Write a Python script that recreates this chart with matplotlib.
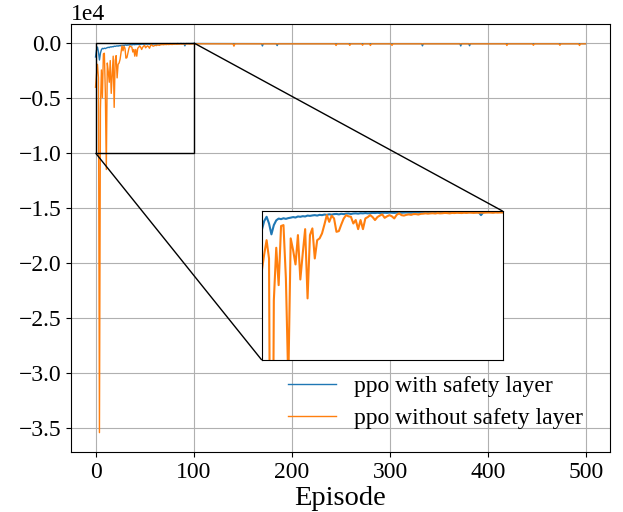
import numpy as np
import matplotlib
matplotlib.use("Agg")
import matplotlib.pyplot as plt
from mpl_toolkits.axes_grid1.inset_locator import mark_inset

plt.rcParams["font.family"] = ["Liberation Serif", "DejaVu Serif"]

# episodes 0..99
blue_head = [
    -1280, -670, -380, -830, -1560, -940, -620, -500, -540, -480,
    -520, -470, -440, -400, -430, -360, -380, -340, -360, -300,
    -320, -290, -270, -300, -250, -270, -230, -250, -210, -240,
    -200, -190, -220, -180, -200, -170, -160, -190, -160, -150,
    -170, -140, -150, -130, -150, -140, -120, -130, -110, -130,
    -120, -110, -120, -100, -110, -120, -100, -90, -110, -100,
    -90, -100, -110, -90, -80, -100, -90, -80, -90, -100,
    -80, -90, -80, -70, -90, -80, -70, -80, -90, -70,
    -80, -70, -80, -70, -60, -80, -70, -60, -70, -80,
    -60, -270, -70, -60, -70, -60, -70, -60, -60, -60,
]
orange_head = [
    -4030, -2900, -1950, -3180, -35400, -6000, -2460, -4970, -1000, -940,
    -4500, -11500, -1830, -2620, -3580, -1610, -4590, -2840, -1210, -5860,
    -1610, -1160, -3180, -1950, -1830, -1500, -900, -270, -720, -310,
    -490, -1390, -1340, -900, -500, -270, -350, -380, -830, -600,
    -1210, -600, -1210, -490, -400, -270, -400, -600, -400, -300,
    -220, -450, -350, -270, -350, -490, -250, -150, -270, -300,
    -250, -220, -250, -200, -200, -230, -180, -170, -150, -170,
    -150, -140, -160, -130, -150, -140, -120, -130, -150, -120,
    -130, -110, -120, -130, -110, -120, -100, -110, -120, -100,
    -110, -100, -110, -100, -90, -100, -110, -90, -100, -90,
]

# episodes 100..499: flat level plus the small dips visible on the top line
blue_tail_level = -70
orange_tail_level = -90
blue_dips = {170: -280, 185: -250, 333: -270, 372: -280, 381: -260}
orange_dips = {141: -300, 245: -240, 259: -230, 272: -220, 280: -240,
               302: -230, 419: -240, 446: -220, 473: -220, 493: -240}

n_episodes = 500


def build(head, level, dips):
    vals = np.full(n_episodes, float(level))
    vals[:len(head)] = head
    for ep, v in dips.items():
        vals[ep] = v
    return vals


episodes = np.arange(n_episodes)
blue = build(blue_head, blue_tail_level, blue_dips)
orange = build(orange_head, orange_tail_level, orange_dips)

fig = plt.figure(figsize=(6.23, 5.12), dpi=100)
ax = fig.add_axes([0.114, 0.117, 0.865, 0.836])
ax.plot(episodes, blue, color="tab:blue", lw=1.0, label="ppo with safety layer")
ax.plot(episodes, orange, color="tab:orange", lw=1.0, label="ppo without safety layer")
ax.grid(True)
ax.ticklabel_format(axis="y", style="sci", scilimits=(0, 0))
ax.tick_params(labelsize=17)
ax.yaxis.get_offset_text().set_fontsize(17)
ax.set_xticks([0, 100, 200, 300, 400, 500])
ax.set_xlabel("Episode", fontsize=20.5, labelpad=2)
ax.legend(loc="lower right", bbox_to_anchor=(0.99, 0.004), frameon=False,
          fontsize=17, labelspacing=0.45)

axins = ax.inset_axes([0.354, 0.215, 0.447, 0.348])
axins.plot(episodes, blue, color="tab:blue", lw=1.5)
axins.plot(episodes, orange, color="tab:orange", lw=1.5)
axins.set_xlim(0, 100)
axins.set_ylim(-10000, 0)
axins.set_xticks([])
axins.set_yticks([])
box, c1, c2 = mark_inset(ax, axins, loc1=1, loc2=3, fc="none", ec="k", lw=1.0)
box.set_zorder(5)

fig.savefig("out.png", dpi=100)
